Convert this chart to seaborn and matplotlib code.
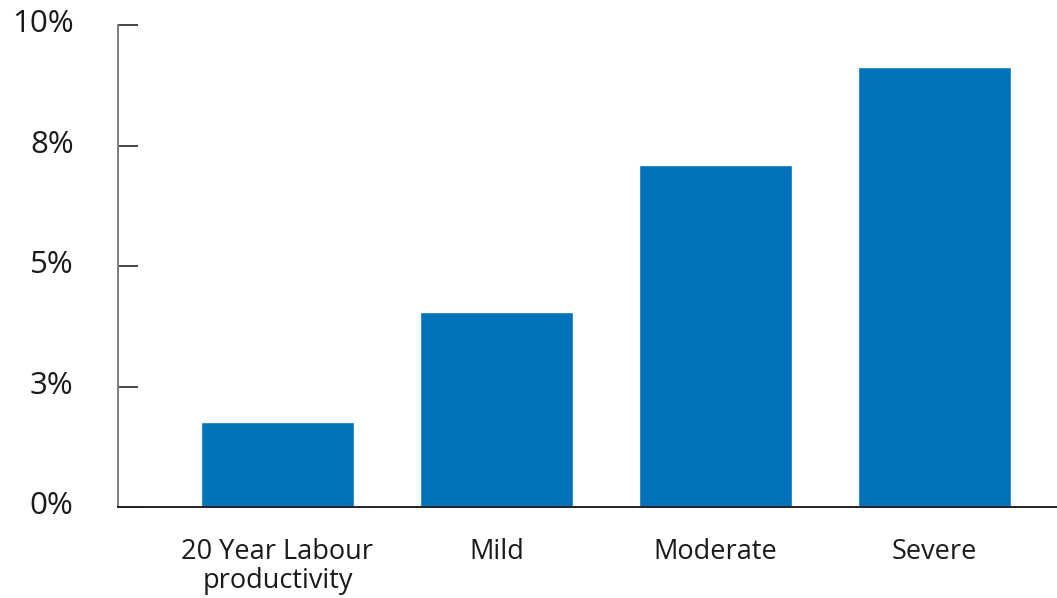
import matplotlib
matplotlib.use("Agg")
import matplotlib.pyplot as plt
import matplotlib.transforms as mtransforms
import seaborn as sns
import pandas as pd
from matplotlib.ticker import FuncFormatter

categories = ["20 Year Labour\nproductivity", "Mild", "Moderate", "Severe"]
values = [1.76, 4.05, 7.10, 9.13]
yticks = [0, 2.5, 5, 7.5, 10]

sns.set_theme(style="white")
plt.rcParams['font.family'] = ['Open Sans', 'DejaVu Sans']

df = pd.DataFrame({"cat": categories, "val": values})

fig = plt.figure(figsize=(10.57, 5.98), dpi=100)
ax = fig.add_axes([118/1057, 1 - 507/598, 1 - 118/1057, (507 - 25)/598])
sns.barplot(data=df, x="cat", y="val", color="#0072BB", saturation=1, width=0.70, ax=ax)

ax.set_ylim(0, 10)
ax.set_xlim(-0.728, 3.559)
ax.set_yticks(yticks)
ax.yaxis.set_major_formatter(FuncFormatter(lambda v, p: f"{int(v + 0.5)}%"))
ax.set_xlabel("")
ax.set_ylabel("")

for s in ["top", "right"]:
    ax.spines[s].set_visible(False)
ax.spines["left"].set_color("#7f7f7f")
ax.spines["left"].set_linewidth(1.4)
ax.spines["bottom"].set_color("#222222")
ax.spines["bottom"].set_linewidth(1.4)

ax.tick_params(axis="y", direction="in", length=14.5, width=1.1, color="#111111",
               labelsize=22.5, labelcolor="#1a1a1a", pad=32, left=True)
ax.tick_params(axis="x", length=0, labelsize=19.5, labelcolor="#1a1a1a", pad=22)
for lbl in ax.get_xticklabels():
    lbl.set_linespacing(1.08)

offset = mtransforms.ScaledTranslation(0, 3/72, fig.dpi_scale_trans)
for lbl in ax.get_yticklabels():
    lbl.set_transform(lbl.get_transform() + offset)

fig.savefig("out.png", dpi=100)
